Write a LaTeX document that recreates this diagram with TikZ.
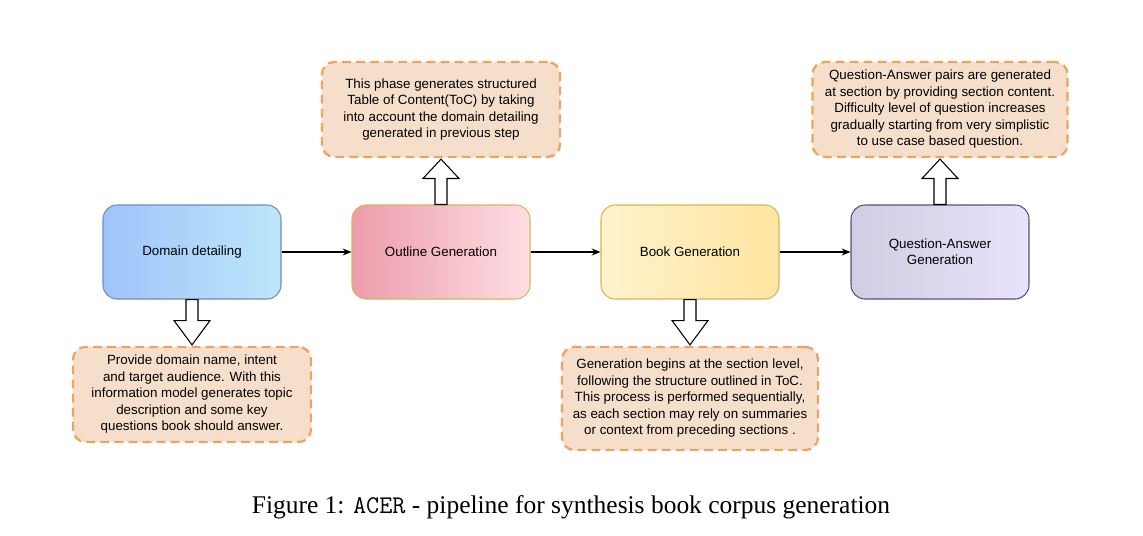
\documentclass[tikz,border=0pt]{standalone}
\usepackage{fontspec}
\setmainfont{Liberation Serif}
\newfontfamily\dsans{Liberation Sans}
\usetikzlibrary{calc,arrows.meta}
\definecolor{noteF}{HTML}{F5DFCB}
\definecolor{noteD}{HTML}{F0A35E}
\definecolor{ddD}{HTML}{6C8EBF}
\begin{document}
\begin{tikzpicture}[x=0.02cm,y=-0.02cm,
  box/.style={draw, rounded corners=8pt, minimum width=178*0.02cm, minimum height=94*0.02cm, inner sep=0pt, font=\dsans\fontsize{7.6pt}{9pt}\selectfont, align=center, line width=0.6pt},
  note/.style={draw=noteD, fill=noteF, dashed, dash pattern=on 5pt off 3pt, line width=1.3pt, rounded corners=7pt, inner sep=0pt, font=\dsans\fontsize{7.6pt}{9.4pt}\selectfont, align=center},
  con/.style={-{Stealth[length=5pt,width=4pt]}, line width=0.6pt},
  barrow/.style={draw, fill=white, line width=0.6pt}]
\useasboundingbox (0,0) rectangle (1143,535);
\node[box, draw=ddD, left color={rgb,255:red,160;green,196;blue,250}, right color={rgb,255:red,190;green,230;blue,250}] (dd) at (192,252) {Domain detailing};
\node[box, draw={rgb,255:red,214;green,182;blue,86}, left color={rgb,255:red,236;green,156;blue,170}, right color={rgb,255:red,255;green,222;blue,228}] (og) at (441,252) {Outline Generation};
\node[box, draw={rgb,255:red,214;green,182;blue,86}, left color={rgb,255:red,255;green,242;blue,204}, right color={rgb,255:red,255;green,230;blue,160}] (bg) at (690,252) {Book Generation};
\node[box, draw={rgb,255:red,86;green,81;blue,126}, left color={rgb,255:red,208;green,206;blue,226}, right color={rgb,255:red,232;green,226;blue,250}] (qa) at (940,252) {Question-Answer\\Generation};
\draw[con] (dd) -- (og);
\draw[con] (og) -- (bg);
\draw[con] (bg) -- (qa);
\node[note, minimum width=238*0.02cm, minimum height=95*0.02cm] (n1) at (441,109.5) {This phase generates structured\\Table of Content(ToC) by taking\\into account the domain detailing\\generated in previous step};
\node[note, minimum width=255*0.02cm, minimum height=95*0.02cm] (n2) at (940,109.5) {Question-Answer pairs are generated\\at section by providing section content.\\Difficulty level of question increases\\gradually starting from very simplistic\\to use case based question.};
\node[note, minimum width=238*0.02cm, minimum height=95*0.02cm] (n3) at (192,394.5) {Provide domain name, intent\\and target audience. With this\\information model generates topic\\description and some key\\questions book should answer.};
\node[note, minimum width=256*0.02cm, minimum height=103*0.02cm] (n4) at (690,398.5) {Generation begins at the section level,\\following the structure outlined in ToC.\\This process is performed sequentially,\\as each section may rely on summaries\\or context from preceding sections .};
\foreach \s/\t in {og/n1, qa/n2}{
 \draw[barrow] (\s.north) ++(-6,0) -- ++(0,-26) -- ++(-12,0) -- ($(\t.south)+(0,1)$) -- ($(\s.north)+(18,-26)$) -- ++(-12,0) -- ++(0,26) -- cycle;}
\foreach \s/\t in {dd/n3, bg/n4}{
 \draw[barrow] (\s.south) ++(-6,0) -- ++(0,21) -- ++(-12,0) -- ($(\t.north)+(0,-1)$) -- ($(\s.south)+(18,21)$) -- ++(-12,0) -- ++(0,-21) -- cycle;}
\node[font=\fontsize{14.5pt}{16pt}\selectfont] (cap) at (571,507) {Figure 1: \texttt{ACER} - pipeline for synthesis book corpus generation};
\end{tikzpicture}
\end{document}
